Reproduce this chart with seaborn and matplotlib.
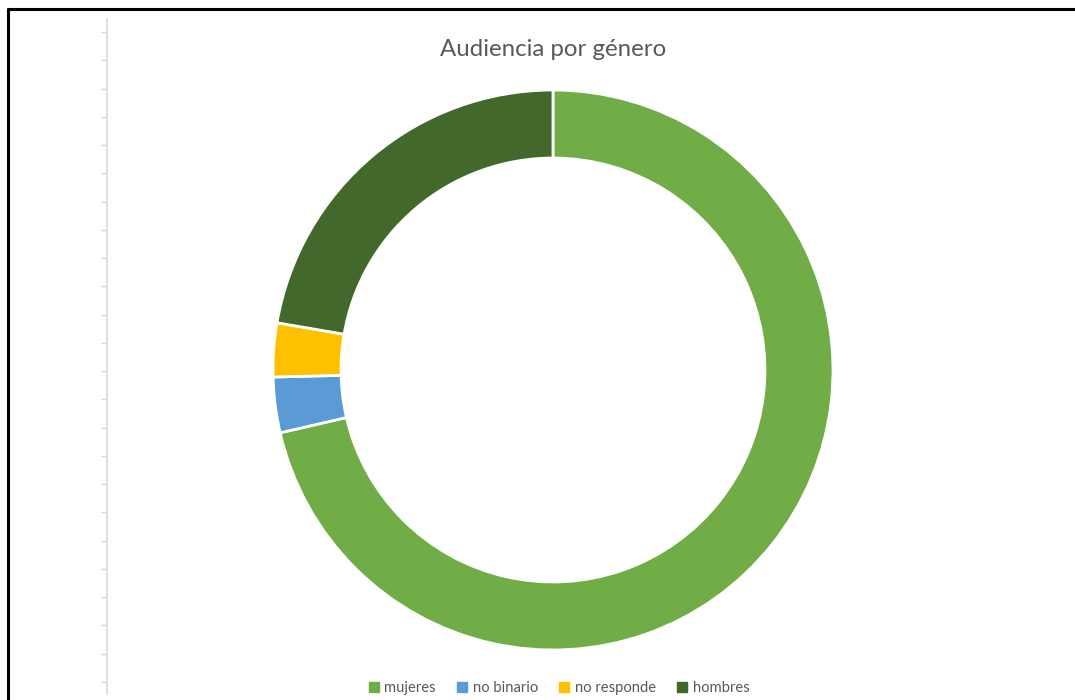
import matplotlib
matplotlib.use("Agg")
import matplotlib.pyplot as plt
from matplotlib.lines import Line2D
import seaborn as sns

# Data (share of audience, %)
categories = ['mujeres', 'no binario', 'no responde', 'hombres']
shares = [71.4, 3.2, 3.1, 22.3]
colors = ['#70AD47', '#5B9BD5', '#FFC000', '#43682B']
title = 'Audiencia por género'

sns.set_theme(style="white")
plt.rcParams['font.family'] = ['Lato', 'DejaVu Sans']

W, H = 1075, 700
fig = plt.figure(figsize=(W / 100, H / 100), dpi=100)
fig.patch.set_facecolor('white')

# Donut chart
ax = fig.add_axes([(553 - 280) / W, (H - 650) / H, 560 / W, 560 / H])
wedges, _ = ax.pie(shares, colors=colors, startangle=90, counterclock=False,
                   radius=1.0,
                   wedgeprops=dict(width=0.243, edgecolor='white', linewidth=2))
ax.set_xlim(-1, 1)
ax.set_ylim(-1, 1)
ax.set_aspect('equal')
ax.axis('off')

fig.text(553 / W, 1 - 49 / H, title, ha='center', va='center',
         fontsize=17.3, color='#595959')

# Legend at the bottom
handles = [Line2D([0], [0], marker='s', linestyle='none', markersize=6.5,
                  markerfacecolor=c, markeredgecolor=c) for c in colors]
fig.legend(handles, categories, loc='center', bbox_to_anchor=(558 / W, 1 - 688 / H),
           ncol=4, frameon=False, fontsize=10.6, labelcolor='#595959',
           handletextpad=0.2, columnspacing=1.3, handlelength=1.0)

# Faint leftover axis line on the left (Excel sheet artefact)
ax_side = fig.add_axes([107 / W, (H - 694) / H, 0.0001, 675 / H])
ax_side.set_ylim(-0.425, 23.46)
ax_side.set_yticks(range(24))
ax_side.set_yticklabels([])
ax_side.set_xticks([])
for s in ['top', 'right', 'bottom']:
    ax_side.spines[s].set_visible(False)
ax_side.spines['left'].set_color('#D9D9D9')
ax_side.spines['left'].set_linewidth(1.2)
ax_side.tick_params(axis='y', direction='out', length=4, width=1, color='#D9D9D9', left=True)
ax_side.patch.set_alpha(0)

# Screenshot frame (top and left border)
fig.add_artist(Line2D([8 / W, 1], [1 - 9 / H, 1 - 9 / H], color='black', linewidth=2.2,
                      transform=fig.transFigure))
fig.add_artist(Line2D([8 / W, 8 / W], [0, 1 - 9 / H], color='black', linewidth=2.2,
                      transform=fig.transFigure))

fig.savefig('out.png', dpi=100)
plt.close(fig)
